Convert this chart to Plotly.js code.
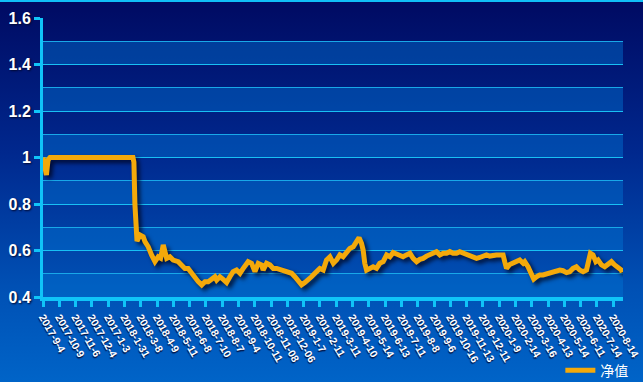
<!DOCTYPE html>
<html>
<head>
<meta charset="utf-8">
<script src="https://cdn.plot.ly/plotly-3.0.1.min.js"></script>
<style>
  html, body { margin: 0; padding: 0; }
  body { width: 643px; height: 382px; overflow: hidden;
         background: linear-gradient(to bottom, #000a62 0%, #00288e 40%, #0050b4 75%, #0064c8 100%); position: relative; }
  #chart { width: 643px; height: 382px; }
  #topline { position: absolute; left: 0; top: 0; width: 643px; height: 2px; background: #10c0f8; z-index: 5; }
  .scatterlayer .trace path.js-line { filter: drop-shadow(3px 3px 2px rgba(0,0,20,0.75)); }
</style>
</head>
<body>
<div id="topline"></div>
<div id="chart"></div>
<script>
// tick labels (one per month position on the x axis)
const tickLabels = ["2017-9-4","2017-10-9","2017-11-6","2017-12-4","2017-1-3","2018-1-31","2018-3-8","2018-4-9",
  "2018-5-11","2018-6-8","2018-7-10","2018-8-7","2018-9-4","2018-10-11","2018-11-08","2018-12-06",
  "2019-1-7","2019-2-11","2019-3-11","2019-4-10","2019-5-14","2019-6-13","2019-7-11","2019-8-8",
  "2019-9-6","2019-10-16","2019-11-13","2019-12-11","2020-1-9","2020-2-14","2020-3-16","2020-4-13",
  "2020-5-14","2020-6-11","2020-7-14","2020-8-14"];

// position of each sample, in units of the tick spacing
const pos = [0,0.12,0.21,0.31,0.43,5.52,5.58,5.64,5.71,5.77,5.95,6.15,6.26,6.46,6.67,6.87,7.07,7.22,7.38,7.48,7.59,
  7.79,7.99,8.30,8.51,8.71,8.91,9.12,9.33,9.53,9.74,9.94,10.14,10.35,10.55,10.66,10.86,11.06,11.27,11.47,11.67,
  11.88,12.09,12.29,12.50,12.59,12.80,13.01,13.21,13.42,13.51,13.72,13.93,14.13,14.34,14.64,14.85,15.05,15.26,
  15.46,15.66,15.87,16.07,16.28,16.48,16.69,16.99,17.20,17.40,17.61,17.82,18.02,18.22,18.42,18.63,18.83,19.04,
  19.25,19.40,19.55,19.65,19.75,19.86,20.06,20.26,20.47,20.67,20.88,21.09,21.29,21.49,21.70,21.90,22.10,22.31,
  22.52,22.72,22.93,23.13,23.33,23.54,23.74,23.94,24.15,24.36,24.56,24.77,24.97,25.17,25.38,25.58,25.79,25.99,
  26.20,26.40,26.61,26.81,27.01,27.22,27.42,27.63,27.83,28.04,28.24,28.34,28.45,28.65,28.85,29.06,29.26,29.47,
  29.57,29.77,29.88,29.98,30.12,30.29,30.49,30.69,30.90,31.10,31.31,31.52,31.72,31.92,32.13,32.33,32.53,32.74,
  32.94,33.15,33.36,33.48,33.60,33.76,33.93,34.07,34.28,34.48,34.68,34.89,35.09,35.29,35.50,35.55];

// net value (净值)
const netValue = [1.0,0.96,0.925,0.99,1.0,1.0,0.98,0.80,0.66,0.64,0.667,0.659,0.638,0.616,0.58,0.552,0.573,0.567,0.624,0.602,0.566,
  0.573,0.559,0.552,0.538,0.523,0.523,0.502,0.48,0.466,0.452,0.466,0.466,0.48,0.487,0.473,0.487,0.476,0.462,0.487,0.509,
  0.516,0.502,0.523,0.538,0.552,0.545,0.509,0.545,0.538,0.516,0.545,0.538,0.523,0.523,0.516,0.516,0.509,0.502,
  0.487,0.466,0.452,0.462,0.473,0.487,0.502,0.523,0.516,0.559,0.573,0.545,0.559,0.581,0.573,0.595,0.609,0.616,
  0.638,0.655,0.631,0.602,0.545,0.516,0.523,0.530,0.523,0.545,0.552,0.581,0.573,0.591,0.585,0.581,0.573,0.581,
  0.588,0.566,0.552,0.562,0.566,0.576,0.581,0.588,0.595,0.581,0.588,0.588,0.595,0.588,0.588,0.595,0.588,0.581,
  0.576,0.573,0.566,0.57,0.576,0.581,0.576,0.581,0.581,0.581,0.581,0.552,0.523,0.54,0.548,0.552,0.559,0.545,
  0.552,0.530,0.516,0.495,0.477,0.487,0.495,0.495,0.499,0.505,0.509,0.516,0.516,0.513,0.505,0.509,0.523,0.530,
  0.516,0.509,0.516,0.552,0.588,0.581,0.552,0.559,0.538,0.530,0.538,0.552,0.538,0.530,0.516,0.506];

const seriesName = "净值";
const yTicks = [0.4, 0.6, 0.8, 1.0, 1.2, 1.4, 1.6];
const yTickText = ["0.4", "0.6", "0.8", "1", "1.2", "1.4", "1.6"];
const bandStarts = [0.4, 0.6, 0.8, 1.0, 1.2, 1.4];

const shapes = bandStarts.map(b => ({
  type: 'rect', xref: 'paper', yref: 'y', x0: 0, x1: 1, y0: b, y1: b + 0.1,
  fillcolor: 'rgba(0,115,210,0.45)', line: { width: 0 }, layer: 'below'
}));

const trace = {
  x: pos, y: netValue, type: 'scatter', mode: 'lines', name: seriesName,
  line: { color: '#f4a90a', width: 5, shape: 'linear' }
};

const layout = {
  width: 643, height: 382,
  margin: { l: 43, r: 20, t: 18, b: 85, autoexpand: false },
  paper_bgcolor: 'rgba(0,0,0,0)', plot_bgcolor: 'rgba(0,0,0,0)',
  showlegend: true,
  legend: { xref: 'container', yref: 'container', x: 0.985, xanchor: 'right', y: 0.03, yanchor: 'middle',
            bgcolor: 'rgba(0,0,0,0)',
            font: { family: '"Noto Sans CJK SC", sans-serif', size: 14, color: '#ffffff' } },
  xaxis: {
    range: [0, 35.6], tickmode: 'array', tickvals: tickLabels.map((_, i) => i), ticktext: tickLabels,
    tickangle: 60, ticks: 'outside', ticklen: 6, tickwidth: 3, tickcolor: '#10c4f8', automargin: false,
    showline: true, linecolor: '#10c4f8', linewidth: 4, showgrid: false, zeroline: false,
    tickfont: { family: 'Arial, "Liberation Sans", sans-serif', size: 10.5, color: '#ffffff', weight: 'bold',
                shadow: '1px 1px 1px #001040' }
  },
  yaxis: {
    range: [0.4, 1.6], tickmode: 'array', tickvals: yTicks, ticktext: yTickText, automargin: false,
    ticks: 'outside', ticklen: 6, tickwidth: 3, tickcolor: '#10c4f8',
    showline: true, linecolor: '#10c4f8', linewidth: 3, zeroline: false,
    showgrid: true, gridcolor: '#18c0f4', gridwidth: 1,
    minor: { dtick: 0.1, tick0: 0.4, showgrid: true, gridcolor: '#18a8e8', gridwidth: 1, ticks: '' },
    tickfont: { family: 'Arial, "Liberation Sans", sans-serif', size: 16, color: '#ffffff', weight: 'bold',
                shadow: '1px 1px 2px #000830' }
  },
  shapes: shapes
};

Plotly.newPlot('chart', [trace], layout, { displayModeBar: false, staticPlot: true });
</script>
</body>
</html>
